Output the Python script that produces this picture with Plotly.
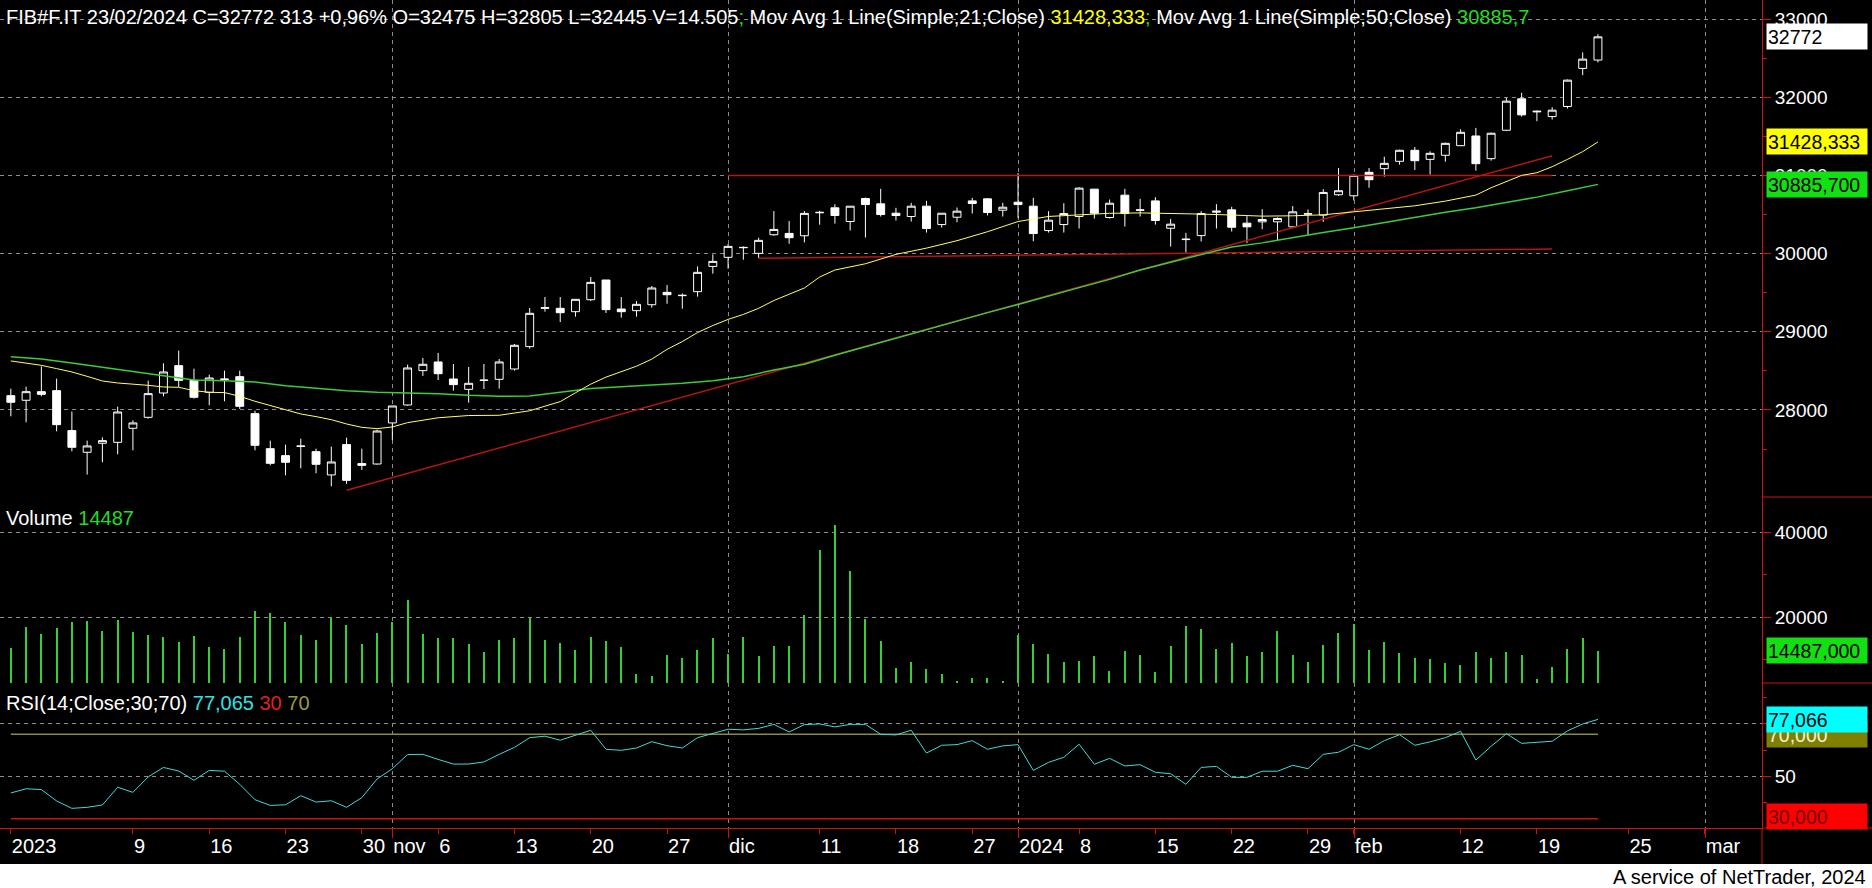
import plotly.graph_objects as go
import pandas as pd

# ---------------- data ----------------
holidays = ["2023-12-25", "2023-12-26", "2024-01-01"]
dates = [d.strftime("%Y-%m-%d") for d in pd.bdate_range("2023-09-27", "2024-02-23")
         if d.strftime("%Y-%m-%d") not in holidays]

open_ = [28183, 28124, 28234, 28247, 27736, 27459, 27574, 27586, 27766, 27906,
         28217, 28567, 28379, 28226, 28396, 28426, 27953, 27505, 27416, 27540,
         27467, 27169, 27557, 27314, 27309, 27834, 28064, 28503, 28614, 28396,
         28264, 28383, 28392, 28524, 28810, 29300, 29300, 29257, 29410, 29662,
         29291, 29270, 29346, 29504, 29462, 29513, 29836, 29952, 30075, 30003,
         30241, 30258, 30228, 30522, 30585, 30410, 30704, 30636, 30516, 30474,
         30606, 30371, 30465, 30674, 30700, 30555, 30657, 30606, 30294, 30371,
         30474, 30824, 30461, 30747, 30559, 30674, 30324, 30179, 30230, 30529,
         30559, 30389, 30406, 30406, 30342, 30504, 30492, 30752, 30739, 31039,
         31086, 31180, 31321, 31205, 31257, 31380, 31504, 31214, 31577, 31979,
         31812, 31752, 31881, 32368, 32475]
high = [28273, 28298, 28558, 28401, 27979, 27608, 27650, 28043, 27868, 28375,
        28597, 28759, 28529, 28452, 28503, 28503, 27991, 27608, 27557, 27633,
        27505, 27531, 27646, 27505, 27748, 28051, 28580, 28665, 28729, 28588,
        28550, 28588, 28652, 28844, 29304, 29444, 29444, 29415, 29700, 29662,
        29444, 29393, 29585, 29598, 29491, 29836, 29990, 30122, 30092, 30203,
        30544, 30416, 30544, 30548, 30632, 30606, 30717, 30828, 30585, 30649,
        30674, 30516, 30589, 30713, 30708, 30649, 31029, 30713, 30542, 30644,
        30849, 30824, 30691, 30828, 30700, 30721, 30444, 30265, 30542, 30632,
        30598, 30479, 30568, 30462, 30607, 30564, 30825, 31094, 31009, 31094,
        31239, 31329, 31363, 31308, 31419, 31590, 31607, 31547, 31992, 32056,
        31829, 31872, 32227, 32573, 32805]
low = [27919, 27842, 28175, 27727, 27471, 27173, 27331, 27433, 27484, 27889,
       28175, 28294, 28145, 28060, 28111, 28013, 27484, 27292, 27164, 27254,
       27190, 27024, 27054, 27233, 27301, 27612, 28055, 28435, 28383, 28247,
       28094, 28268, 28273, 28503, 28784, 29257, 29125, 29193, 29393, 29240,
       29180, 29193, 29308, 29359, 29295, 29449, 29743, 29807, 29922, 29943,
       30228, 30126, 30143, 30369, 30384, 30295, 30205, 30474, 30423, 30410,
       30269, 30333, 30401, 30512, 30487, 30474, 30452, 30158, 30269, 30269,
       30320, 30448, 30448, 30346, 30474, 30371, 30090, 30013, 30154, 30320,
       30282, 30137, 30312, 30162, 30325, 30235, 30406, 30739, 30680, 30842,
       30983, 31137, 31069, 31009, 31175, 31376, 31060, 31188, 31569, 31752,
       31693, 31714, 31855, 32282, 32445]
close = [28098, 28234, 28200, 27812, 27523, 27540, 27608, 27974, 27834, 28209,
         28486, 28379, 28162, 28409, 28392, 28047, 27548, 27318, 27331, 27535,
         27305, 27335, 27100, 27292, 27731, 28051, 28537, 28584, 28464, 28324,
         28341, 28379, 28614, 28827, 29236, 29308, 29244, 29415, 29632, 29283,
         29257, 29351, 29560, 29474, 29466, 29760, 29900, 30092, 30079, 30169,
         30309, 30203, 30514, 30527, 30487, 30606, 30627, 30499, 30487, 30606,
         30320, 30516, 30542, 30640, 30525, 30593, 30627, 30256, 30427, 30512,
         30837, 30516, 30644, 30512, 30555, 30423, 30376, 30184, 30512, 30542,
         30337, 30342, 30436, 30449, 30534, 30509, 30782, 30804, 31000, 30945,
         31154, 31321, 31188, 31282, 31410, 31551, 31150, 31539, 31949, 31774,
         31820, 31834, 32218, 32487, 32772]
volume = [12812, 17734, 16094, 17500, 18906, 19141, 16797, 19375, 16562, 15938,
          15391, 14219, 15625, 13047, 12578, 15391, 21484, 21016, 18906, 15859,
          14688, 20000, 18203, 13750, 16328, 18906, 24062, 16094, 15156, 15156,
          13750, 11875, 14688, 15156, 20000, 14688, 13984, 12344, 15391, 14453,
          13047, 6719, 6250, 11172, 10469, 12344, 15156, 11406, 15391, 10938,
          13281, 13281, 20547, 35859, 41641, 30859, 19609, 14453, 8125, 9531,
          7891, 6719, 5156, 5781, 5781, 5156, 15859, 13750, 11406, 9531,
          9766, 10938, 7422, 12109, 11172, 7188, 13281, 17969, 17266, 12578,
          13984, 10938, 11875, 16797, 11172, 9531, 13516, 16328, 18438, 12344,
          14219, 11641, 10469, 10234, 9297, 8828, 11875, 10469, 11875, 11172,
          5547, 8359, 12578, 15156, 12109]
rsi = [42.2, 44.2, 43.8, 38.4, 34.9, 35.4, 36.5, 44.9, 42.5, 49.8,
       54.3, 52.6, 48.2, 52.9, 52.5, 46.3, 39.0, 36.3, 36.6, 40.9,
       37.9, 38.5, 35.4, 40.0, 48.8, 53.7, 60.4, 60.5, 58.1, 55.9,
       55.9, 56.9, 60.5, 63.8, 68.4, 69.1, 67.2, 69.7, 71.9, 62.9,
       62.4, 63.5, 66.5, 64.6, 63.5, 68.4, 70.3, 72.4, 72.1, 72.8,
       74.7, 71.1, 74.6, 74.9, 73.5, 74.7, 74.7, 70.0, 69.7, 71.9,
       61.1, 64.8, 65.1, 67.0, 62.9, 64.5, 65.1, 52.9, 56.7, 59.1,
       65.3, 55.8, 58.6, 55.0, 55.6, 52.0, 51.3, 46.3, 54.3, 54.8,
       49.6, 49.6, 52.5, 52.5, 55.3, 53.7, 60.5, 61.5, 65.1, 62.9,
       67.0, 69.8, 64.8, 66.4, 68.4, 71.4, 57.8, 64.3, 70.3, 65.7,
       66.2, 66.7, 71.6, 74.9, 77.065]

ma21_idx = [0, 1, 2, 3, 4, 5, 6, 7, 8, 9, 10, 11, 12, 13, 14, 15, 16, 17, 18, 19,
            20, 21, 22, 23, 24, 25, 26, 28, 30, 32, 34, 36, 37, 38, 39, 40, 41, 42,
            43, 44, 45, 46, 47, 48, 49, 50, 51, 52, 53, 54, 56, 58, 60, 62, 64, 66,
            68, 70, 72, 74, 76, 78, 80, 82, 84, 86, 88, 90, 92, 94, 96, 97, 98, 99,
            100, 101, 102, 103, 104]
ma21_val = [28627, 28601, 28571, 28529, 28486, 28430, 28371, 28345, 28333, 28315,
            28294, 28290, 28247, 28226, 28222, 28175, 28111, 28055, 28000, 27949,
            27915, 27876, 27821, 27778, 27761, 27783, 27838, 27900, 27929, 27932,
            27990, 28107, 28220, 28330, 28420, 28490, 28560, 28650, 28775, 28875,
            28990, 29080, 29158, 29222, 29300, 29400, 29480, 29560, 29700, 29790,
            29870, 29990, 30070, 30165, 30280, 30410, 30475, 30492, 30515, 30520,
            30515, 30505, 30493, 30479, 30483, 30496, 30534, 30577, 30611, 30671,
            30748, 30842, 30923, 31000, 31034, 31111, 31205, 31304, 31428]
ma50_idx = [0, 2, 4, 6, 8, 10, 12, 14, 16, 18, 20, 22, 24, 26, 28, 30, 32, 34, 36,
            38, 40, 42, 44, 46, 48, 50, 52, 54, 56, 58, 60, 62, 64, 66, 68, 70, 72,
            74, 76, 78, 80, 82, 84, 86, 88, 90, 92, 94, 96, 98, 100, 102, 104]
ma50_val = [28682, 28652, 28601, 28546, 28486, 28431, 28384, 28375, 28358, 28311,
            28277, 28247, 28226, 28220, 28209, 28187, 28175, 28179, 28226, 28273,
            28298, 28315, 28341, 28375, 28426, 28511, 28584, 28700, 28810, 28920,
            29030, 29140, 29245, 29350, 29460, 29565, 29670, 29790, 29890, 29985,
            30085, 30137, 30205, 30269, 30329, 30397, 30462, 30530, 30586, 30650,
            30722, 30804, 30885]

trend_idx = [22, 101]
trend_val = [26973, 31252]
resist_idx = [47, 101]
resist_val = [31000, 31000]
support_idx = [49, 101]
support_val = [29940, 30058]
rsi_levels = [70, 30]

tick_idx = [0, 8, 13, 18, 23, 25, 28, 33, 38, 43, 47, 53, 58, 63, 66, 70, 75, 80,
            85, 88, 95, 100, 106, 111]
tick_text = ["2023", "9", "16", "23", "30", "nov", "6", "13", "20", "27", "dic",
             "11", "18", "27", "2024", "8", "15", "22", "29", "feb", "12", "19",
             "25", "mar"]
month_idx = [25, 47, 66, 88, 111]

price_ticks = [28000, 29000, 30000, 31000, 32000, 33000]
vol_ticks = [20000, 40000]
rsi_ticks = [50, 75]

label_close = "32772"
label_ma21 = "31428,333"
label_ma50 = "30885,700"
label_vol = "14487,000"
label_rsi = "77,066"

x = list(range(len(dates)))

# ---------------- styling ----------------
FONT = "Liberation Sans, Arial, sans-serif"
RED = "#d01010"
GRID = "#8a8a8a"
GREEN_TXT = "#22dd22"
W, H = 1872, 888
L_PX, R_PX, T_PX, B_PX = 0, 110, 0, 60
PLOT_W = W - L_PX - R_PX
PLOT_H = H - T_PX - B_PX


def py(pix):  # pixel row -> paper y
    return (PLOT_H - pix) / PLOT_H


def px(pix):  # pixel column -> paper x
    return pix / PLOT_W


fig = go.Figure()

fig.add_trace(go.Candlestick(
    x=x, open=open_, high=high, low=low, close=close,
    increasing=dict(line=dict(color="white", width=1), fillcolor="black"),
    decreasing=dict(line=dict(color="white", width=1), fillcolor="white"),
    whiskerwidth=0, xaxis="x", yaxis="y", showlegend=False, text=dates))

fig.add_trace(go.Scatter(x=trend_idx, y=trend_val, mode="lines",
                         line=dict(color="#b81414", width=1.5), yaxis="y", showlegend=False))
fig.add_trace(go.Scatter(x=resist_idx, y=resist_val, mode="lines",
                         line=dict(color="#b81414", width=1.5), yaxis="y", showlegend=False))
fig.add_trace(go.Scatter(x=support_idx, y=support_val, mode="lines",
                         line=dict(color="#b81414", width=1.5), yaxis="y", showlegend=False))
fig.add_trace(go.Scatter(x=ma50_idx, y=ma50_val, mode="lines",
                         line=dict(color="#3ccc3c", width=1.5), yaxis="y", showlegend=False))
fig.add_trace(go.Scatter(x=ma21_idx, y=ma21_val, mode="lines",
                         line=dict(color="#ffff66", width=1), yaxis="y", showlegend=False))

fig.add_trace(go.Bar(x=x, y=volume, yaxis="y2", width=0.08,
                     marker=dict(color="#35d035", line=dict(width=0)), showlegend=False))

fig.add_trace(go.Scatter(x=[x[0], x[-1]], y=[rsi_levels[0]] * 2, mode="lines",
                         line=dict(color="#8a8a48", width=1.5), yaxis="y3", showlegend=False))
fig.add_trace(go.Scatter(x=[x[0], x[-1]], y=[rsi_levels[1]] * 2, mode="lines",
                         line=dict(color="#d01010", width=1.5), yaxis="y3", showlegend=False))
fig.add_trace(go.Scatter(x=x, y=rsi, mode="lines",
                         line=dict(color="#44d8d8", width=1), yaxis="y3", showlegend=False))

yaxis_common = dict(
    side="right", anchor="x", showline=True, linecolor=RED, linewidth=1,
    ticks="outside", ticklen=8, tickcolor=RED, tickwidth=1,
    showgrid=True, gridcolor=GRID, griddash="4px,4px", gridwidth=1,
    zeroline=False, tickfont=dict(color="white", size=19, family=FONT),
    tickmode="array", fixedrange=True,
)

dom_price = [py(497), 1]
dom_vol = [py(683), py(497)]
dom_rsi = [0, py(683)]

fig.update_layout(
    width=W, height=H,
    margin=dict(l=L_PX, r=R_PX, t=T_PX, b=B_PX, pad=0),
    paper_bgcolor="black", plot_bgcolor="black",
    showlegend=False, boxgap=0.26, bargap=0,
    font=dict(family=FONT, color="white", size=20),
    xaxis=dict(
        range=[-0.71, 114.75], domain=[0, 1], anchor="y3",
        tickmode="array", tickvals=tick_idx, ticktext=tick_text,
        ticks="outside", ticklen=5, tickcolor=RED, tickangle=0,
        ticklabelposition="outside right",
        tickfont=dict(color="white", size=20, family=FONT),
        showline=True, linecolor=RED, linewidth=1, showgrid=False, zeroline=False,
        rangeslider=dict(visible=False),
        minor=dict(tickmode="array", tickvals=[m + 0.02 for m in month_idx],
                   ticks="outside", ticklen=9, tickcolor=RED,
                   showgrid=True, gridcolor=GRID, griddash="4px,4px", gridwidth=1),
    ),
    yaxis=dict(domain=dom_price, range=[26887, 33243], tickvals=price_ticks,
               ticktext=[str(v) for v in price_ticks],
               minor=dict(tickmode="array",
                          tickvals=list(range(27500, 33500, 1000)),
                          ticks="outside", ticklen=4, tickcolor=RED, showgrid=False),
               **yaxis_common),
    yaxis2=dict(domain=dom_vol, range=[4600, 48235], tickvals=vol_ticks,
                ticktext=[str(v) for v in vol_ticks],
                minor=dict(tickmode="array", tickvals=[10000, 30000],
                           ticks="outside", ticklen=4, tickcolor=RED, showgrid=False),
                **yaxis_common),
    yaxis3=dict(domain=dom_rsi, range=[25.6, 94.3], tickvals=rsi_ticks,
                ticktext=[str(v) for v in rsi_ticks],
                minor=dict(tickmode="array", tickvals=[37.5, 62.5, 87.5],
                           ticks="outside", ticklen=4, tickcolor=RED, showgrid=False),
                **yaxis_common),
)

shapes = [
    # white footer band
    dict(type="rect", xref="paper", yref="paper", x0=-0.01, x1=px(W) + 0.01,
         y0=py(864), y1=py(H + 5), fillcolor="white", line=dict(width=0), layer="above"),
    # pane separators in the axis area
    dict(type="line", xref="paper", yref="paper", x0=1, x1=px(W), y0=py(497), y1=py(497),
         line=dict(color=RED, width=1)),
    dict(type="line", xref="paper", yref="paper", x0=1, x1=px(W), y0=py(683), y1=py(683),
         line=dict(color=RED, width=1)),
    dict(type="line", xref="paper", yref="paper", x0=1, x1=px(W), y0=0, y1=0,
         line=dict(color=RED, width=1)),
    dict(type="line", xref="paper", yref="paper", x0=1, x1=1, y0=0, y1=py(864),
         line=dict(color=RED, width=1)),
]
fig.update_layout(shapes=shapes)

hdr = ("FIB#F.IT 23/02/2024 C=32772 313 +0,96% O=32475 H=32805 L=32445 V=14.505"
       f"<span style='color:{GREEN_TXT}'>;</span> Mov Avg 1 Line(Simple;21;Close) "
       "<span style='color:#ffff00'>31428,333</span>"
       f"<span style='color:{GREEN_TXT}'>;</span> Mov Avg 1 Line(Simple;50;Close) "
       f"<span style='color:{GREEN_TXT}'>30885,7</span>")

ann = [
    dict(text=hdr, xref="paper", yref="paper", x=px(4), y=py(17), xanchor="left",
         yanchor="middle", showarrow=False, font=dict(color="white", size=20, family=FONT)),
    dict(text=f"Volume <span style='color:{GREEN_TXT}'>14487</span>", xref="paper",
         yref="paper", x=px(4), y=py(518), xanchor="left", yanchor="middle",
         showarrow=False, font=dict(color="white", size=20, family=FONT)),
    dict(text=("RSI(14;Close;30;70) <span style='color:#33e0e0'>77,065</span> "
               "<span style='color:#e02020'>30</span> <span style='color:#9a9a40'>70</span>"),
         xref="paper", yref="paper", x=px(4), y=py(703), xanchor="left", yanchor="middle",
         showarrow=False, font=dict(color="white", size=20, family=FONT)),
    dict(text="A service of NetTrader, 2024", xref="paper", yref="paper", x=px(1868),
         y=py(877), xanchor="right", yanchor="middle", showarrow=False,
         font=dict(color="black", size=20, family=FONT)),
]


def box(text, yref, yval, bg, fg):
    return dict(text=text, xref="paper", yref=yref, x=px(1766), y=yval, xanchor="left",
                yanchor="middle", showarrow=False, align="left", width=98, height=23,
                borderpad=1, bgcolor=bg, font=dict(color=fg, size=19.5, family=FONT))


ann += [
    box(label_close, "y", close[-1], "white", "black"),
    box(label_ma21, "y", ma21_val[-1], "#ffff00", "black"),
    box(label_ma50, "y", ma50_val[-1], "#11e011", "black"),
    box(label_vol, "y2", volume[-1], "#11e011", "black"),
    box("70,000", "y3", rsi_levels[0], "#808000", "#f0f0d0"),
    box(label_rsi, "y3", rsi[-1], "#00ffff", "black"),
    box("30,000", "y3", rsi_levels[1] + 1.0, "#ff0000", "#700000"),
]
fig.update_layout(annotations=ann)

fig.write_html("out.html", config={"displayModeBar": False},
               post_script="document.body.style.margin='0';document.body.style.overflow='hidden';")
